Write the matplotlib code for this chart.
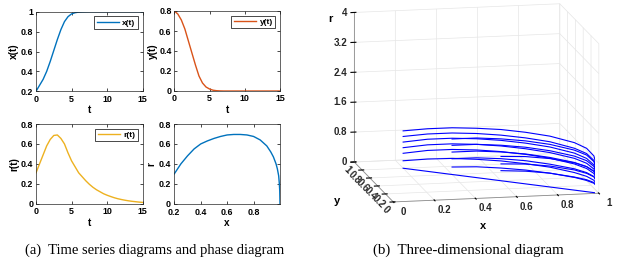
import matplotlib
matplotlib.use("Agg")
import matplotlib.pyplot as plt
from matplotlib.ticker import FormatStrFormatter, NullFormatter
from mpl_toolkits.mplot3d import proj3d
import numpy as np

plt.rcParams['font.family'] = ['Liberation Sans', 'DejaVu Sans']
plt.rcParams['font.weight'] = 'bold'

# ---------------- data: time series ----------------
t = [0, 0.5, 1, 1.5, 2, 2.5, 3, 3.5, 4, 4.5, 5, 5.5, 6, 6.5, 7, 7.5, 8, 8.5, 9, 9.5,
     10, 10.5, 11, 11.5, 12, 12.5, 13, 13.5, 14, 14.5, 15]
x_t = [0.20, 0.26, 0.32, 0.40, 0.50, 0.61, 0.72, 0.82, 0.90, 0.95, 0.978, 0.99, 0.996, 0.998, 0.999,
       1.0, 1.0, 1.0, 1.0, 1.0, 1.0, 1.0, 1.0, 1.0, 1.0, 1.0, 1.0, 1.0, 1.0, 1.0, 1.0]
y_t = [0.80, 0.77, 0.71, 0.62, 0.50, 0.38, 0.26, 0.15, 0.08, 0.04, 0.02, 0.008, 0.003, 0.001, 0.0,
       0.0, 0.0, 0.0, 0.0, 0.0, 0.0, 0.0, 0.0, 0.0, 0.0, 0.0, 0.0, 0.0, 0.0, 0.0, 0.0]
r_t = [0.31, 0.40, 0.49, 0.58, 0.645, 0.685, 0.69, 0.655, 0.60, 0.51, 0.43, 0.37, 0.31, 0.27, 0.23,
       0.195, 0.165, 0.14, 0.12, 0.10, 0.085, 0.072, 0.06, 0.05, 0.042, 0.035, 0.029, 0.024, 0.02,
       0.016, 0.013]

# ---------------- data: phase diagram ----------------
phase_x = [0.2, 0.25, 0.3, 0.35, 0.4, 0.45, 0.5, 0.55, 0.6, 0.65, 0.7, 0.75, 0.8, 0.85, 0.9,
           0.93, 0.95, 0.97, 0.98, 0.99, 0.995, 0.998, 1.0]
phase_r = [0.30, 0.40, 0.48, 0.55, 0.60, 0.63, 0.655, 0.675, 0.69, 0.695, 0.695, 0.69, 0.675,
           0.64, 0.58, 0.52, 0.47, 0.40, 0.35, 0.28, 0.20, 0.13, 0.0]

# ---------------- data: 3D trajectories ----------------
xA = [0.2, 0.3, 0.4, 0.5, 0.6, 0.7, 0.8, 0.9, 0.95, 0.98, 0.995, 1.0]
yA = [0.8, 0.7, 0.6, 0.5, 0.4, 0.3, 0.2, 0.1, 0.05, 0.02, 0.005, 0.0]
rA = [
    [1.00, 1.14, 1.25, 1.32, 1.37, 1.38, 1.36, 1.27, 1.16, 0.98, 0.60, 0.0],
    [0.85, 1.00, 1.11, 1.18, 1.22, 1.23, 1.21, 1.12, 1.02, 0.86, 0.52, 0.0],
    [0.70, 0.86, 0.97, 1.04, 1.08, 1.09, 1.07, 0.99, 0.89, 0.74, 0.45, 0.0],
    [0.55, 0.71, 0.82, 0.89, 0.93, 0.94, 0.92, 0.85, 0.76, 0.63, 0.38, 0.0],
    [0.40, 0.56, 0.67, 0.74, 0.78, 0.79, 0.77, 0.70, 0.62, 0.51, 0.30, 0.0],
    [0.20, 0.33, 0.43, 0.49, 0.53, 0.54, 0.53, 0.47, 0.41, 0.33, 0.20, 0.0],
    [0.0, 0.0, 0.0, 0.0, 0.0, 0.0, 0.0, 0.0, 0.0, 0.0, 0.0, 0.0],
]
xB = [0.4, 0.5, 0.6, 0.7, 0.8, 0.9, 0.95, 0.98, 0.995, 1.0]
yB = [0.6, 0.5, 0.4, 0.3, 0.2, 0.1, 0.05, 0.02, 0.005, 0.0]
rB = [
    [0.95, 1.06, 1.12, 1.15, 1.14, 1.07, 0.98, 0.83, 0.50, 0.0],
    [0.78, 0.89, 0.95, 0.98, 0.97, 0.91, 0.83, 0.70, 0.43, 0.0],
    [0.60, 0.71, 0.77, 0.80, 0.79, 0.74, 0.67, 0.57, 0.35, 0.0],
    [0.42, 0.53, 0.59, 0.62, 0.61, 0.57, 0.51, 0.43, 0.27, 0.0],
    [0.20, 0.29, 0.34, 0.37, 0.37, 0.34, 0.30, 0.25, 0.16, 0.0],
]
xC = [0.6, 0.7, 0.8, 0.9, 0.95, 0.98, 0.995, 1.0]
yC = [0.4, 0.3, 0.2, 0.1, 0.05, 0.02, 0.005, 0.0]
rC = [
    [0.65, 0.73, 0.76, 0.73, 0.67, 0.57, 0.35, 0.0],
    [0.45, 0.53, 0.56, 0.54, 0.49, 0.42, 0.26, 0.0],
    [0.27, 0.34, 0.37, 0.35, 0.32, 0.27, 0.17, 0.0],
]

t_ticks = [0, 5, 10, 15]
x3_ticks = [0, 0.2, 0.4, 0.6, 0.8, 1]
x3_labels = ['0', '0.2', '0.4', '0.6', '0.8', '1']
y3_ticks = [0, 0.2, 0.4, 0.6, 0.8, 1]
y3_labels = ['0', '0.2', '0.4', '0.6', '0.8', '1']
z3_ticks = [0, 0.8, 1.6, 2.4, 3.2, 4]
z3_labels = ['0', '0.8', '1.6', '2.4', '3.2', '4']

C_BLUE = '#0072BD'
C_ORANGE = '#D95319'
C_YELLOW = '#EDB120'

fig = plt.figure(figsize=(6.31, 2.64), dpi=100)

W, H = 631.0, 264.0
def rect(l, t_, r, b):
    return [l / W, 1 - b / H, (r - l) / W, (b - t_) / H]

LS = 6.4
AL = 7.2

def style(ax, xpad=2.5):
    ax.tick_params(direction='in', length=2, width=0.5, top=True, right=True,
                   labelsize=LS, pad=2)
    ax.tick_params(axis='x', pad=xpad)
    for s in ax.spines.values():
        s.set_linewidth(0.5)
        s.set_color('#262626')
    for lbl in ax.get_xticklabels() + ax.get_yticklabels():
        lbl.set_fontweight('bold')
    ax.xaxis.set_major_formatter(FormatStrFormatter('%g'))
    ax.yaxis.set_major_formatter(FormatStrFormatter('%g'))

def legend(ax):
    lg = ax.legend(loc='upper right', frameon=True, fancybox=False,
                   edgecolor='black', framealpha=1, handlelength=2.7, borderpad=0.3,
                   borderaxespad=0.55, handletextpad=0.4, prop={'weight': 'bold', 'size': 6.0})
    lg.get_frame().set_linewidth(0.5)

# top-left x(t)
ax1 = fig.add_axes(rect(36, 11.7, 142.7, 91.3))
ax1.plot(t, x_t, color=C_BLUE, lw=1.0, label='x(t)')
ax1.set_xlim(0, 15); ax1.set_ylim(0.2, 1)
ax1.set_xticks(t_ticks); ax1.set_yticks([0.2, 0.4, 0.6, 0.8, 1])
ax1.set_xlabel('t', fontsize=AL, fontweight='bold', labelpad=1)
ax1.set_ylabel('x(t)', fontsize=AL, fontweight='bold', labelpad=1)
style(ax1); legend(ax1)

# top-right y(t)
ax2 = fig.add_axes(rect(174.3, 11.0, 280, 91.0))
ax2.plot(t, y_t, color=C_ORANGE, lw=1.0, label='y(t)')
ax2.set_xlim(0, 15); ax2.set_ylim(0, 0.8)
ax2.set_xticks(t_ticks); ax2.set_yticks([0, 0.2, 0.4, 0.6, 0.8])
ax2.set_xlabel('t', fontsize=AL, fontweight='bold', labelpad=1)
ax2.set_ylabel('y(t)', fontsize=AL, fontweight='bold', labelpad=1)
style(ax2); legend(ax2)

# bottom-left r(t)
ax3 = fig.add_axes(rect(36, 124, 142.7, 203.7))
ax3.plot(t, r_t, color=C_YELLOW, lw=1.0, label='r(t)')
ax3.set_xlim(0, 15); ax3.set_ylim(0, 0.8)
ax3.set_xticks(t_ticks); ax3.set_yticks([0, 0.2, 0.4, 0.6, 0.8])
ax3.set_xlabel('t', fontsize=AL, fontweight='bold', labelpad=1)
ax3.set_ylabel('r(t)', fontsize=AL, fontweight='bold', labelpad=1)
style(ax3); legend(ax3)

# bottom-right phase
ax4 = fig.add_axes(rect(174.3, 124, 280, 203.7))
ax4.plot(phase_x, phase_r, color=C_BLUE, lw=1.0)
ax4.set_xlim(0.2, 1); ax4.set_ylim(0, 0.8)
ax4.set_xticks([0.2, 0.4, 0.6, 0.8]); ax4.set_yticks([0, 0.2, 0.4, 0.6, 0.8])
ax4.set_xlabel('x', fontsize=AL, fontweight='bold', labelpad=0.5)
ax4.set_ylabel('r', fontsize=AL, fontweight='bold', labelpad=1)
style(ax4, xpad=3.2)
ax4.tick_params(axis='y', pad=2.6)

# 3D
ax5 = fig.add_axes([0.50, 0.138, 0.50, 0.92], projection='3d', proj_type='ortho')
for xs, ys, rs in ((xA, yA, rA), (xB, yB, rB), (xC, yC, rC)):
    for rr in rs:
        ax5.plot(xs, ys, rr, color='blue', lw=0.8)
ax5.set_xlim(0, 1); ax5.set_ylim(0, 1); ax5.set_zlim(0, 4)
ax5.view_init(elev=12, azim=-101.5)
ax5.set_box_aspect((1.07, 1.0, 0.78), zoom=1.3)
ax5.set_xticks(x3_ticks)
ax5.set_yticks(y3_ticks)
ax5.set_zticks(z3_ticks)
for axis in (ax5.xaxis, ax5.yaxis, ax5.zaxis):
    axis.set_major_formatter(NullFormatter())
    for tk in axis.get_major_ticks():
        tk.label1.set_visible(False)
        tk.label2.set_visible(False)
    axis.label.set_visible(False)
    axis.offsetText.set_visible(False)
    axis.set_pane_color((1, 1, 1, 0))
    axis.pane.set_edgecolor('#d9d9d9')
    axis._axinfo['grid'].update(color='#e6e6e6', linewidth=0.5)
    axis.line.set_color('#8c8c8c')
    axis.line.set_linewidth(0.6)

# tick labels of the 3D box: projected through the axes' own projection
fig.canvas.draw()
M = ax5.get_proj()

def label3d(x, y, z, s, **kw):
    px, py, _ = proj3d.proj_transform(x, y, z, M)
    dx, dy = ax5.transData.transform((px, py))
    fig.text(dx, dy, s, transform=None, fontsize=7, fontweight='bold', color='#262626', **kw)

for v, s in zip(x3_ticks, x3_labels):
    label3d(v, -0.25, 0, s, ha='center', va='center')
for v, s in zip(y3_ticks, y3_labels):
    label3d(-0.035, v, -0.2, s, ha='center', va='center', rotation=-45)
for v, s in zip(z3_ticks, z3_labels):
    label3d(-0.035, 1, v, s, ha='right', va='center')

fig.text(483 / W, 1 - 226 / H, 'x', fontsize=8, fontweight='bold', ha='center', va='center')
fig.text(337 / W, 1 - 201 / H, 'y', fontsize=8, fontweight='bold', ha='center', va='center')
fig.text(330 / W, 1 - 19 / H, 'r', fontsize=8, fontweight='bold', ha='center', va='center')

fig.text(155 / W, 1 - 250 / H, '(a)  Time series diagrams and phase diagram',
         family='Liberation Serif', fontweight='normal', fontsize=10.5, ha='center', va='center')
fig.text(468 / W, 1 - 250 / H, '(b)  Three-dimensional diagram',
         family='Liberation Serif', fontweight='normal', fontsize=10.8, ha='center', va='center')

fig.savefig('out.png', dpi=100)
